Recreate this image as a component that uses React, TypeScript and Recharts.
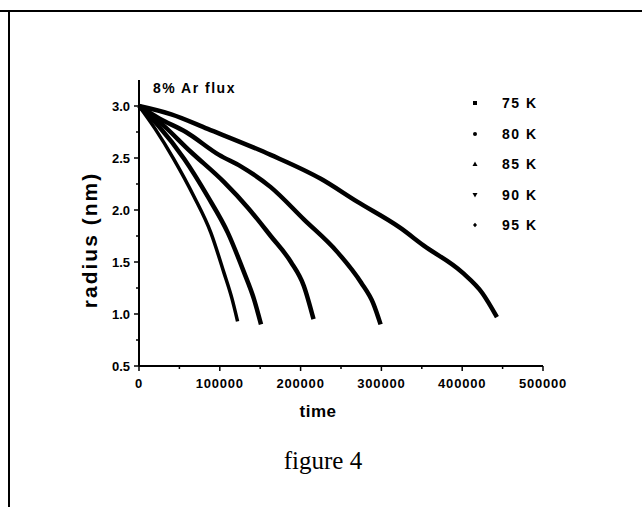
import { LineChart, Line, XAxis, YAxis } from 'recharts'

// radius (nm) vs time for each substrate temperature
const t75 = [0, 40000, 85000, 163000, 225000, 270000, 323000, 352000, 400000, 425000, 443000]
const r75 = [3.0, 2.92, 2.78, 2.53, 2.3, 2.08, 1.83, 1.66, 1.4, 1.2, 0.97]

const t80 = [0, 25000, 58000, 99000, 126000, 163000, 204000, 245000, 275000, 290000, 299000]
const r80 = [3.0, 2.88, 2.75, 2.53, 2.42, 2.22, 1.91, 1.6, 1.3, 1.1, 0.9]

const t85 = [0, 25000, 64000, 105000, 135000, 163000, 188000, 204000, 216000]
const r85 = [3.0, 2.85, 2.56, 2.27, 2.02, 1.75, 1.5, 1.27, 0.95]

const t90 = [0, 25000, 56000, 85000, 110000, 130000, 142000, 151000]
const r90 = [3.0, 2.8, 2.49, 2.13, 1.78, 1.4, 1.15, 0.9]

const t95 = [0, 20000, 43000, 68000, 89000, 105000, 115000, 122000]
const r95 = [3.0, 2.78, 2.49, 2.13, 1.78, 1.4, 1.15, 0.93]

const seriesNames = ['75 K', '80 K', '85 K', '90 K', '95 K']
const markerShapes = ['square', 'circle', 'triangle', 'triangleDown', 'diamond']

const xTicks = [0, 50000, 100000, 150000, 200000, 250000, 300000, 350000, 400000, 450000, 500000]
const yTicks = [0.5, 0.75, 1.0, 1.25, 1.5, 1.75, 2.0, 2.25, 2.5, 2.75, 3.0]

const zip = (ts: number[], rs: number[]) => ts.map((t, i) => ({ t, r: rs[i] }))

const series = [
  zip(t75, r75),
  zip(t80, r80),
  zip(t85, r85),
  zip(t90, r90),
  zip(t95, r95),
]

const FONT = '"Liberation Sans", Arial, sans-serif'

function YTick({ x, y, payload }: any) {
  const v = payload.value as number
  const major = Math.abs(v * 2 - Math.round(v * 2)) < 1e-6
  return (
    <g>
      <line x1={x} x2={x - (major ? 5 : 3)} y1={y} y2={y} stroke="#000" strokeWidth={1.5} />
      {major && (
        <text x={x - 9} y={y} textAnchor="end" dominantBaseline="central"
          fontFamily={FONT} fontWeight="bold" fontSize={13} fill="#000">
          {v.toFixed(1)}
        </text>
      )}
    </g>
  )
}

function XTick({ x, y, payload }: any) {
  const v = payload.value as number
  const major = v % 100000 === 0
  return (
    <g>
      <line x1={x} x2={x} y1={y} y2={y + (major ? 5 : 3)} stroke="#000" strokeWidth={1.5} />
      {major && (
        <text x={x} y={y + 17} textAnchor="middle" dominantBaseline="central"
          fontFamily={FONT} fontWeight="bold" fontSize={13} letterSpacing={0.8} fill="#000">
          {v}
        </text>
      )}
    </g>
  )
}

function Marker({ shape }: { shape: string }) {
  return (
    <svg width={8} height={8} viewBox="-4 -4 8 8" style={{ display: 'block' }}>
      {shape === 'square' && <rect x={-2} y={-2} width={4} height={4} fill="#000" />}
      {shape === 'circle' && <circle r={2} fill="#000" />}
      {shape === 'triangle' && <path d="M0,-2.5L2.5,2L-2.5,2Z" fill="#000" />}
      {shape === 'triangleDown' && <path d="M0,2.5L2.5,-2L-2.5,-2Z" fill="#000" />}
      {shape === 'diamond' && <path d="M0,-2.2L2,0L0,2.2L-2,0Z" fill="#000" />}
    </svg>
  )
}

export default function App() {
  return (
    <div style={{ position: 'absolute', left: 0, top: 0, width: 642, height: 507, background: '#fff', fontFamily: FONT }}>
      {/* page border */}
      <div style={{ position: 'absolute', left: 0, top: 10, width: 642, height: 2, background: '#000' }} />
      <div style={{ position: 'absolute', left: 8, top: 10, width: 2, height: 497, background: '#000' }} />

      <LineChart width={642} height={507} data={series[0]}
        margin={{ top: 80, right: 99, bottom: 111, left: 99 }}
        style={{ position: 'absolute', left: 0, top: 0 }}>
        <XAxis dataKey="t" type="number" domain={[0, 500000]} ticks={xTicks}
          height={30} tickSize={0} tickMargin={0} tickLine={false}
          axisLine={{ stroke: '#000', strokeWidth: 2 }} tick={<XTick />} interval={0} />
        <YAxis dataKey="r" type="number" domain={[0.5, 3.25]} ticks={yTicks}
          width={40} tickSize={0} tickMargin={0} tickLine={false}
          axisLine={{ stroke: '#000', strokeWidth: 2 }} tick={<YTick />} interval={0} />
        {series.map((d, i) => (
          <Line key={seriesNames[i]} data={d} dataKey="r" name={seriesNames[i]}
            type="monotone" stroke="#000" strokeWidth={i === 4 ? 3.5 : 4.5}
            dot={false} isAnimationActive={false} />
        ))}
      </LineChart>

      <div style={{ position: 'absolute', left: 153, top: 80, fontSize: 14, fontWeight: 'bold', letterSpacing: 1.5 }}>
        8% Ar flux
      </div>

      {seriesNames.map((name, i) => (
        <div key={name} style={{ position: 'absolute', left: 471, top: 103 + i * 30.5 - 9, height: 18, display: 'flex', alignItems: 'center' }}>
          <Marker shape={markerShapes[i]} />
          <span style={{ marginLeft: 23, fontSize: 14, fontWeight: 'bold', letterSpacing: 1.5 }}>{name}</span>
        </div>
      ))}

      <div style={{ position: 'absolute', left: 90, top: 240, transform: 'translate(-50%, -50%) rotate(-90deg)', whiteSpace: 'nowrap', fontSize: 21, fontWeight: 'bold', letterSpacing: 2 }}>
        radius (nm)
      </div>
      <div style={{ position: 'absolute', left: 318, top: 412, transform: 'translate(-50%, -50%)', fontSize: 17, fontWeight: 'bold', letterSpacing: 0.5 }}>
        time
      </div>
      <div style={{ position: 'absolute', left: 323, top: 461, transform: 'translate(-50%, -50%)', fontFamily: '"Liberation Serif", "Times New Roman", serif', fontSize: 25, whiteSpace: 'nowrap' }}>
        figure 4
      </div>
    </div>
  )
}
